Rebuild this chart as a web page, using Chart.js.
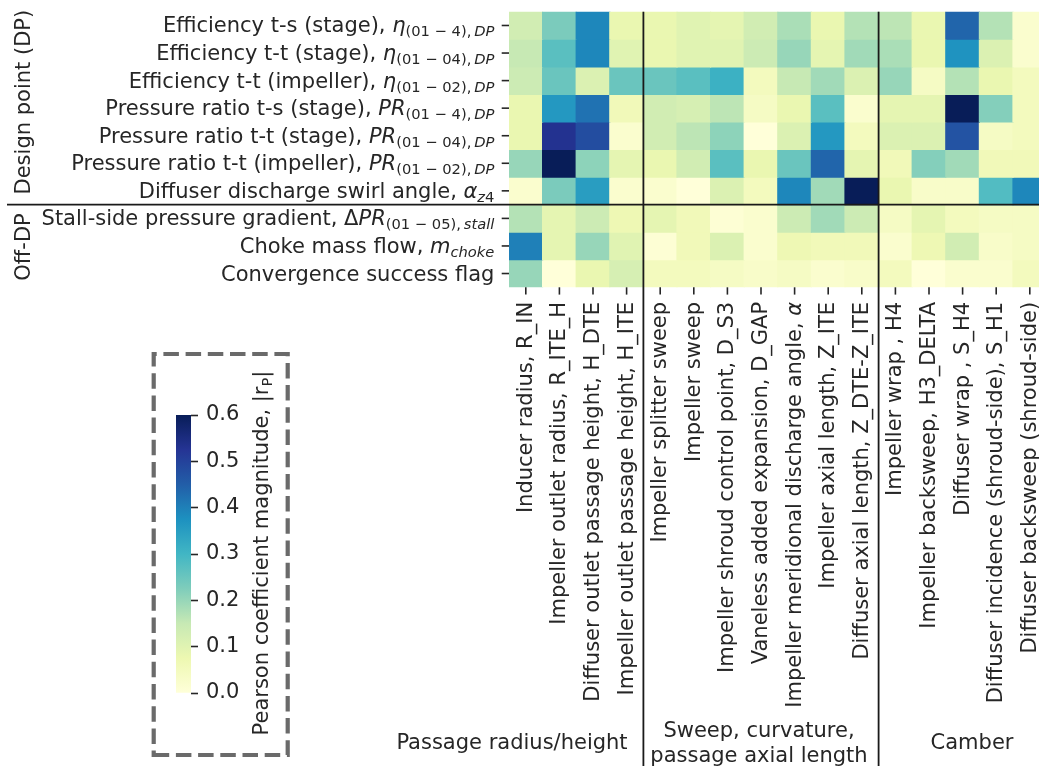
<!DOCTYPE html>
<html><head><meta charset="utf-8">
<script src="https://cdn.jsdelivr.net/npm/chart.js@4.4.0/dist/chart.umd.min.js"></script>
<style>
html,body{margin:0;padding:0;overflow:hidden;background:#fff;width:1039px;height:766px}
#c{position:absolute;left:0;top:0}
#cb{position:absolute;left:150px;top:340px}
</style></head><body>
<canvas id="c" width="1060" height="766"></canvas>
<canvas id="cb" width="150" height="420"></canvas>
<script>
// ---------- DATA ----------
const colLabels = [
  'Inducer radius, R_IN',
  'Impeller outlet radius, R_ITE_H',
  'Diffuser outlet passage height, H_DTE',
  'Impeller outlet passage height, H_ITE',
  'Impeller splitter sweep',
  'Impeller sweep',
  'Impeller shroud control point, D_S3',
  'Vaneless added expansion, D_GAP',
  'Impeller meridional discharge angle, $α$',
  'Impeller axial length, Z_ITE',
  'Diffuser axial length, Z_DTE-Z_ITE',
  'Impeller wrap , H4',
  'Impeller backsweep, H3_DELTA',
  'Diffuser wrap , S_H4',
  'Diffuser incidence (shroud-side), S_H1',
  'Diffuser backsweep (shroud-side)'
];

// row labels: [text, style]  n=normal, i=italic, s=subscript, si=subscript italic
const rowLabels = [
  [['Efficiency t-s (stage), ','n'],['η','i'],['(01 − 4),\u2009','s'],['DP','si']],
  [['Efficiency t-t (stage), ','n'],['η','i'],['(01 − 04),\u2009','s'],['DP','si']],
  [['Efficiency t-t (impeller), ','n'],['η','i'],['(01 − 02),\u2009','s'],['DP','si']],
  [['Pressure ratio t-s (stage), ','n'],['PR','i'],['(01 − 4),\u2009','s'],['DP','si']],
  [['Pressure ratio t-t (stage), ','n'],['PR','i'],['(01 − 04),\u2009','s'],['DP','si']],
  [['Pressure ratio t-t (impeller), ','n'],['PR','i'],['(01 − 02),\u2009','s'],['DP','si']],
  [['Diffuser discharge swirl angle, ','n'],['α','i'],['z','si'],['4','s']],
  [['Stall-side pressure gradient, ','n'],['Δ','n'],['PR','i'],['(01 − 05),\u2009','s'],['stall','si']],
  [['Choke mass flow, ','n'],['m','i'],['choke','si']],
  [['Convergence success flag','n']]
];

const groupLabelsX = [['Passage radius/height'], ['Sweep, curvature,', 'passage axial length'], ['Camber']];
const groupLabelsY = ['Design point (DP)', 'Off-DP'];

// Pearson coefficient magnitudes |r_P| per output (row), one value per input (column)
const effTsStage = [0.13,0.23,0.39,0.08,0.08,0.10,0.09,0.13,0.18,0.08,0.17,0.16,0.08,0.44,0.17,0.02];
const effTtStage = [0.15,0.27,0.39,0.10,0.08,0.10,0.10,0.14,0.20,0.09,0.19,0.18,0.08,0.37,0.11,0.02];
const effTtImp   = [0.14,0.25,0.11,0.25,0.25,0.27,0.31,0.05,0.15,0.19,0.11,0.20,0.04,0.17,0.08,0.05];
const prTsStage  = [0.08,0.36,0.42,0.06,0.13,0.12,0.16,0.04,0.08,0.27,0.02,0.09,0.09,0.60,0.22,0.05];
const prTtStage  = [0.08,0.53,0.48,0.02,0.13,0.16,0.21,0.00,0.11,0.36,0.05,0.11,0.11,0.47,0.04,0.05];
const prTtImp    = [0.20,0.60,0.21,0.09,0.08,0.13,0.27,0.08,0.25,0.44,0.09,0.06,0.22,0.19,0.06,0.06];
const swirlAngle = [0.02,0.23,0.35,0.02,0.02,0.00,0.11,0.05,0.39,0.19,0.60,0.08,0.03,0.03,0.28,0.39];
const stallGrad  = [0.17,0.09,0.14,0.07,0.09,0.06,0.01,0.02,0.14,0.19,0.14,0.04,0.09,0.05,0.04,0.04];
const chokeFlow  = [0.40,0.09,0.20,0.10,0.01,0.06,0.11,0.02,0.07,0.06,0.06,0.02,0.07,0.13,0.03,0.04];
const convFlag   = [0.20,0.00,0.08,0.12,0.05,0.05,0.04,0.03,0.04,0.02,0.03,0.05,0.00,0.02,0.02,0.05];

const rowValues = [effTsStage, effTtStage, effTtImp, prTsStage, prTtStage, prTtImp, swirlAngle, stallGrad, chokeFlow, convFlag];

const cbMin = 0, cbMax = 0.6;
const cbTickLabels = ['0.0','0.1','0.2','0.3','0.4','0.5','0.6'];
const cbTitle = [['Pearson coefficient magnitude, |r','n'],['P','s'],['|','n']];

// YlGnBu
const cmapStops = [[255,255,217],[237,248,177],[199,233,180],[127,205,187],[65,182,196],[29,145,192],[34,94,168],[37,52,148],[8,29,88]];
function cmap(v){
  let t = Math.max(0, Math.min(1, (v - cbMin) / (cbMax - cbMin))) * 8;
  let i = Math.min(7, Math.floor(t)), f = t - i;
  const a = cmapStops[i], b = cmapStops[i+1];
  return 'rgb(' + a.map((x,k)=>Math.round(x + (b[k]-x)*f)).join(',') + ')';
}

// ---------- TEXT HELPERS ----------
const FAM = '"DejaVu Sans"';
const FS = 21;
const TXT = '#262626';
const SUBDY = 4;
function segFont(st){
  const sub = st[0] === 's';
  const it = st.endsWith('i');
  return (it ? 'italic ' : '') + (sub ? FS*0.7 : FS) + 'px ' + FAM;
}
function drawRich(ctx, segs, x, y, align){
  ctx.textAlign = 'left'; ctx.textBaseline = 'alphabetic';
  let w = 0;
  for (const s of segs){ ctx.font = segFont(s[1]); w += ctx.measureText(s[0]).width; }
  let cx = align === 'right' ? x - w : align === 'center' ? x - w/2 : x;
  for (const s of segs){
    ctx.font = segFont(s[1]);
    ctx.fillText(s[0], cx, y + (s[1][0] === 's' ? SUBDY : 0));
    cx += ctx.measureText(s[0]).width;
  }
}
function parseDollar(str){
  return str.split('$').map((t,i)=>[t, i % 2 ? 'i' : 'n']).filter(s=>s[0].length);
}

// ---------- MAIN HEATMAP ----------
const decor = {
  id: 'decor',
  afterDatasetsDraw(chart){
    const ctx = chart.ctx, xs = chart.scales.x, ys = chart.scales.y, ca = chart.chartArea;
    ctx.save();
    ctx.fillStyle = TXT; ctx.strokeStyle = TXT;
    // separators
    ctx.lineWidth = 1.8; ctx.strokeStyle = '#1a1a1a';
    const ySep = ys.getPixelForValue(7);
    ctx.beginPath(); ctx.moveTo(7, ySep); ctx.lineTo(chart.width, ySep); ctx.stroke();
    [3.5, 10.5].forEach(b => {
      const x = (xs.getPixelForValue(Math.floor(b)) + xs.getPixelForValue(Math.ceil(b))) / 2;
      ctx.beginPath(); ctx.moveTo(x, ca.top); ctx.lineTo(x, chart.height); ctx.stroke();
    });
    // row ticks + labels
    ctx.strokeStyle = TXT; ctx.lineWidth = 1.6;
    rowLabels.forEach((segs, r) => {
      const y = ys.getPixelForValue(r + 0.5);
      ctx.beginPath(); ctx.moveTo(ca.left - 7.3, y); ctx.lineTo(ca.left, y); ctx.stroke();
      drawRich(ctx, segs, ca.left - 14.6, y + 7, 'right');
    });
    // column ticks + labels
    colLabels.forEach((lab, c) => {
      const x = xs.getPixelForValue(c);
      ctx.beginPath(); ctx.moveTo(x, ca.bottom); ctx.lineTo(x, ca.bottom + 7.3); ctx.stroke();
      ctx.save();
      ctx.translate(x + 6, ca.bottom + 14.6);
      ctx.rotate(-Math.PI/2);
      drawRich(ctx, parseDollar(lab), 0, 0, 'right');
      ctx.restore();
    });
    // group labels (x)
    drawRich(ctx, [[groupLabelsX[0][0],'n']], 512, 749, 'center');
    drawRich(ctx, [[groupLabelsX[1][0],'n']], 759, 737, 'center');
    drawRich(ctx, [[groupLabelsX[1][1],'n']], 759, 762, 'center');
    drawRich(ctx, [[groupLabelsX[2][0],'n']], 972, 749, 'center');
    // group labels (y)
    [[groupLabelsY[0], ys.getPixelForValue(3.5) - 6], [groupLabelsY[1], ys.getPixelForValue(8.5) + 1]].forEach(([t, yc]) => {
      ctx.save(); ctx.translate(30, yc); ctx.rotate(-Math.PI/2);
      drawRich(ctx, [[t,'n']], 0, 0, 'center');
      ctx.restore();
    });
    // dashed colorbar frame
    ctx.setLineDash([15.5, 6.7]); ctx.lineWidth = 4.2; ctx.strokeStyle = '#6a6a6a';
    ctx.beginPath();
    ctx.moveTo(153.7, 755); ctx.lineTo(287.7, 755); ctx.lineTo(287.7, 354); ctx.lineTo(153.7, 354); ctx.closePath();
    ctx.stroke();
    ctx.restore();
  }
};

new Chart(document.getElementById('c'), {
  type: 'bar',
  data: {
    labels: colLabels,
    datasets: rowValues.map((vals, r) => ({
      label: rowLabels[r].map(s=>s[0]).join(''),
      data: vals.map(() => [r, r + 1]),
      backgroundColor: vals.map(cmap),
      borderWidth: 0,
      grouped: false,
      barPercentage: 1,
      categoryPercentage: 1,
      inflateAmount: 0.6
    }))
  },
  options: {
    responsive: false,
    animation: false,
    layout: { padding: { left: 509, right: 13.4, top: 11.7, bottom: 478.7 } },
    plugins: { legend: { display: false }, tooltip: { enabled: false } },
    scales: {
      x: { type: 'category', display: false, offset: true },
      y: { type: 'linear', display: false, min: 0, max: 10, reverse: true }
    }
  },
  plugins: [decor]
});

// ---------- COLORBAR ----------
const cbDecor = {
  id: 'cbDecor',
  afterDraw(chart){
    const ctx = chart.ctx;
    ctx.save(); ctx.fillStyle = TXT;
    ctx.translate(118, 213); ctx.rotate(-Math.PI/2);
    drawRich(ctx, cbTitle, 0, 0, 'center');
    ctx.restore();
  }
};
new Chart(document.getElementById('cb'), {
  type: 'bar',
  data: {
    labels: ['|r_P|'],
    datasets: [{
      data: [[cbMin, cbMax]],
      backgroundColor: (c) => {
        const { ctx, chartArea } = c.chart;
        if (!chartArea) return cmap(0);
        const g = ctx.createLinearGradient(0, chartArea.bottom, 0, chartArea.top);
        cmapStops.forEach((s, i) => g.addColorStop(i / 8, 'rgb(' + s.join(',') + ')'));
        return g;
      },
      borderWidth: 0, barPercentage: 1, categoryPercentage: 1
    }]
  },
  options: {
    responsive: false,
    animation: false,
    layout: { padding: { left: 26, right: 49, top: 75, bottom: 67 } },
    plugins: { legend: { display: false }, tooltip: { enabled: false } },
    scales: {
      x: { display: false },
      y: {
        position: 'right', min: cbMin, max: cbMax,
        afterFit: (s) => { s.width = 60; },
        grid: { drawOnChartArea: false, drawTicks: true, tickLength: 7, tickWidth: 1.6, tickColor: TXT },
        border: { display: false },
        ticks: { stepSize: 0.1, padding: 8, color: TXT, font: { family: 'DejaVu Sans', size: 21 },
                 callback: (v, i) => cbTickLabels[i] }
      }
    }
  },
  plugins: [cbDecor]
});
</script>
</body></html>
